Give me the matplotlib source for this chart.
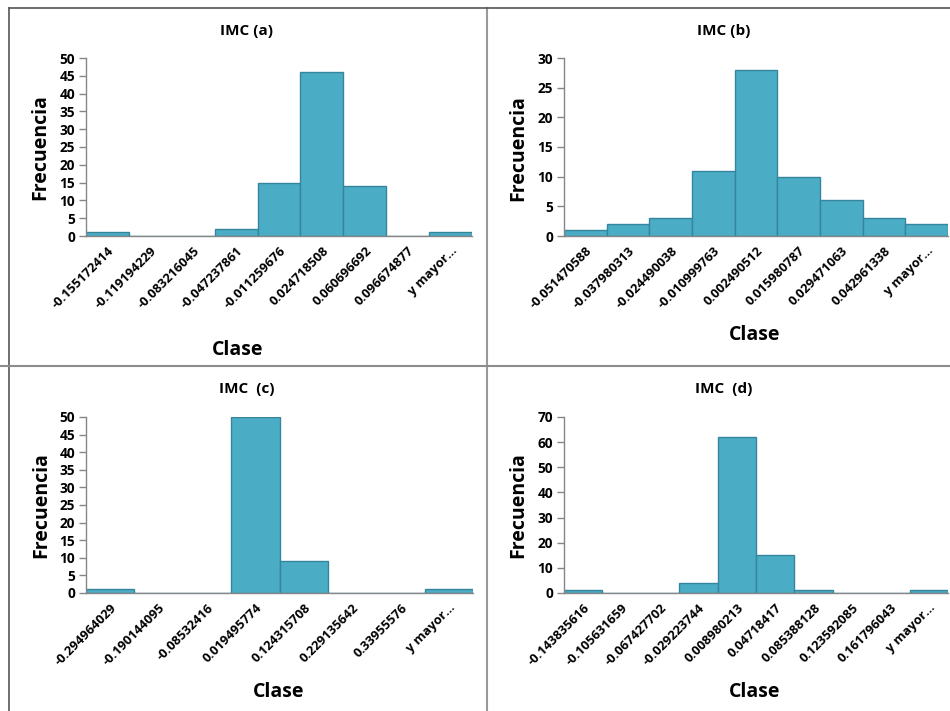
import matplotlib
matplotlib.use("Agg")
import matplotlib.pyplot as plt
from matplotlib.lines import Line2D

plt.rcParams['font.family'] = ['Open Sans', 'DejaVu Sans']

ELL = "y mayor\u2026"

cats_a = ["-0.155172414", "-0.119194229", "-0.083216045", "-0.047237861", "-0.011259676",
          "0.024718508", "0.060696692", "0.096674877", ELL]
vals_a = [1, 0, 0, 2, 15, 46, 14, 0, 1]

cats_b = ["-0.051470588", "-0.037980313", "-0.024490038", "-0.010999763", "0.002490512",
          "0.015980787", "0.029471063", "0.042961338", ELL]
vals_b = [1, 2, 3, 11, 28, 10, 6, 3, 2]

cats_c = ["-0.294964029", "-0.190144095", "-0.08532416", "0.019495774", "0.124315708",
          "0.229135642", "0.33955576", ELL]
vals_c = [1, 0, 0, 50, 9, 0, 0, 1]

cats_d = ["-0.143835616", "-0.105631659", "-0.067427702", "-0.029223744", "0.008980213",
          "0.04718417", "0.085388128", "0.123592085", "0.161796043", ELL]
vals_d = [1, 0, 0, 4, 62, 15, 1, 0, 0, 1]

titles = ["IMC (a)", "IMC (b)", "IMC  (c)", "IMC  (d)"]
ymax = [50, 30, 50, 70]
ystep = [5, 5, 5, 10]

W, H = 950, 711
fig = plt.figure(figsize=(W / 100, H / 100), dpi=100)

def fx(x):
    return x / W

def fy(y):
    return 1 - y / H

# panel layout in pixels: left, right, top, bottom, title(x,y), ylabel(x,y), xlabel(x,y)
panels = [
    (cats_a, vals_a, (86, 472, 58, 236), (246, 31), (40, 147), (238, 350)),
    (cats_b, vals_b, (564, 948, 58, 236), (724, 31), (518, 148), (755, 335)),
    (cats_c, vals_c, (86, 473, 417, 593), (247, 389), (41, 505), (279, 692)),
    (cats_d, vals_d, (564, 948, 417, 593), (724, 389), (518, 505), (755, 692)),
]

GRAY = '#868686'
for i, (cats, vals, (l, r, t, b), tpos, ypos, xpos) in enumerate(panels):
    ax = fig.add_axes([fx(l), fy(b), (r - l) / W, (b - t) / H])
    n = len(cats)
    ax.bar(range(n), vals, width=1.0, color='#4BACC6', edgecolor='#35869C', linewidth=1.0,
           clip_on=True)
    ax.set_xlim(-0.5, n - 0.5)
    ax.set_ylim(0, ymax[i])
    ax.set_yticks(range(0, ymax[i] + 1, ystep[i]))
    ax.set_xticks(range(n))
    ax.set_xticklabels(cats, rotation=45, ha='right', rotation_mode='anchor',
                       fontsize=9.3, fontweight='bold')
    for lab in ax.get_yticklabels():
        lab.set_fontweight('bold')
        lab.set_fontsize(9.8)
    ax.tick_params(axis='x', length=0, pad=6)
    ax.tick_params(axis='y', length=5, color=GRAY, width=1, pad=3)
    for s in ['top', 'right']:
        ax.spines[s].set_visible(False)
    for s in ['left', 'bottom']:
        ax.spines[s].set_color(GRAY)
        ax.spines[s].set_linewidth(1.0)
    ax.patch.set_alpha(0)
    fig.text(fx(tpos[0]), fy(tpos[1]), titles[i], ha='center', va='center',
             fontsize=11, fontweight='bold')
    fig.text(fx(ypos[0]), fy(ypos[1]), "Frecuencia", ha='center', va='center',
             rotation=90, fontsize=14, fontweight='bold')
    fig.text(fx(xpos[0]), fy(xpos[1]), "Clase", ha='center', va='center',
             fontsize=14, fontweight='bold')

# panel borders
lines = [
    ((9, 9), (8, 711), '#555555', 1.2),
    ((487, 487), (8, 711), '#9a9a9a', 1.5),
    ((9, 950), (8, 8), '#555555', 1.2),
    ((0, 950), (366, 366), '#8c8c8c', 1.5),
]
for xs, ys, c, lw in lines:
    fig.add_artist(Line2D([fx(xs[0]), fx(xs[1])], [fy(ys[0]), fy(ys[1])],
                          transform=fig.transFigure, color=c, linewidth=lw))

fig.savefig("out.png", dpi=100, facecolor='white')
